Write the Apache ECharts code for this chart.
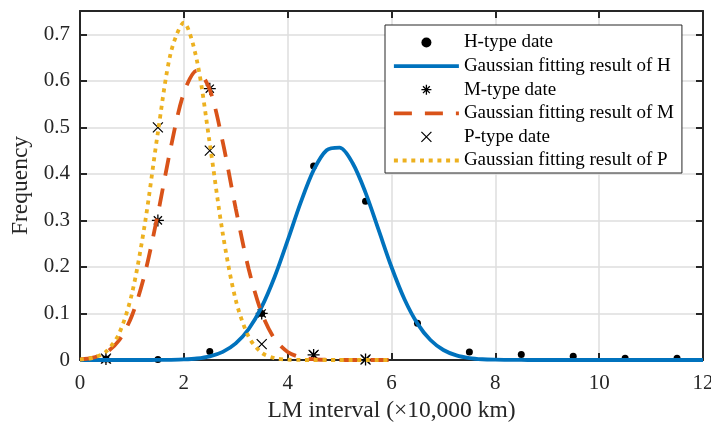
<!DOCTYPE html>
<html>
<head>
<meta charset="utf-8">
<script src="https://cdn.jsdelivr.net/npm/echarts@6/dist/echarts.min.js"></script>
<style>
  html, body { margin: 0; padding: 0; background: #ffffff; }
  #chart { width: 711px; height: 426px; }
</style>
</head>
<body>
<div id="chart"></div>
<script>
// Histogram bin centres of the LM interval (×10,000 km)
const binCenters = [0.5, 1.5, 2.5, 3.5, 4.5, 5.5, 6.5, 7.5, 8.5, 9.5, 10.5, 11.5];

// Observed frequencies per type
const hFreq = [0.002, 0.001, 0.018, 0.100, 0.417, 0.341, 0.079, 0.017, 0.012, 0.008, 0.004, 0.004];
const mFreq = [0.002, 0.300, 0.583, 0.100, 0.011, 0.001];
const pFreq = [0.003, 0.500, 0.450, 0.034, 0.011, 0.001];

// Abscissae at which the fitted Gaussian curves are tabulated
const fitX = [0, 0.25, 0.5, 0.75, 1, 1.25, 1.5, 1.75, 2, 2.25, 2.5, 2.75, 3, 3.25, 3.5, 3.75,
              4, 4.25, 4.5, 4.75, 5, 5.25, 5.5, 5.75, 6, 6.25, 6.5, 6.75, 7, 7.25, 7.5, 7.75,
              8, 8.25, 8.5, 8.75, 9, 9.25, 9.5, 9.75, 10, 10.25, 10.5, 10.75, 11, 11.25, 11.5, 11.75, 12];

// Fitted curve values (H over 0–12, M and P over 0–6)
const hFit = [0, 0, 0, 0, 0, 0, 0.0001, 0.0004,
              0.0012, 0.0032, 0.0079, 0.0175, 0.0357, 0.0666, 0.1141, 0.1789,
              0.2570, 0.3383, 0.4080, 0.4508, 0.4564, 0.4233, 0.3597, 0.2800,
              0.1998, 0.1305, 0.0782, 0.0429, 0.0215, 0.0099, 0.0042, 0.0016,
              0.0006, 0.0002, 0.0001, 0, 0, 0, 0, 0, 0, 0, 0, 0, 0, 0, 0, 0, 0];
const mFit = [0.0015, 0.0052, 0.0159, 0.0419, 0.0950, 0.1860, 0.3140, 0.4572,
              0.5742, 0.6220, 0.5810, 0.4682, 0.3254, 0.1950, 0.1008, 0.0450,
              0.0173, 0.0057, 0.0016, 0.0004, 0.0001, 0, 0, 0, 0];
const pFit = [0.0010, 0.0047, 0.0179, 0.0561, 0.1424, 0.2930, 0.4887, 0.6609,
              0.7247, 0.6445, 0.4647, 0.2716, 0.1288, 0.0495, 0.0154, 0.0039,
              0.0008, 0.0001, 0, 0, 0, 0, 0, 0, 0];

// Axis ranges and tick steps
const xRange = [0, 12], xStep = 2;
const yRange = [0, 0.75], yStep = 0.1;

const seriesNames = [
  'H-type date', 'Gaussian fitting result of H',
  'M-type date', 'Gaussian fitting result of M',
  'P-type date', 'Gaussian fitting result of P'
];

const pairs = (xs, ys) => ys.map((y, i) => [xs[i], y]);

const FONT = 'Liberation Serif';
const INK = '#262626';
const CLEAR = 'rgba(0,0,0,0)';
const ASTERISK = 'path://M0,5L10,5M5,0L5,10M1.6,1.6L8.4,8.4M8.4,1.6L1.6,8.4';
const CROSS = 'path://M0,0L10,10M10,0L0,10';
const FIT_WIDTH = 3.8;

const frameLine = { show: true, onZero: false, lineStyle: { color: INK, width: 2 } };
const frameTick = { show: true, inside: true, length: 7, lineStyle: { color: INK, width: 2 } };
const gridLine = { show: true, lineStyle: { color: '#dedede', width: 1.5 } };

// Fitted-curve entries in the legend show only their line sample
const legendItems = seriesNames.map((name, i) =>
  i % 2 === 1
    ? { name: name, itemStyle: { color: CLEAR, borderColor: CLEAR, borderWidth: 0, opacity: 0 } }
    : { name: name }
);

const chart = echarts.init(document.getElementById('chart'), null, { renderer: 'canvas' });

chart.setOption({
  animation: false,
  backgroundColor: '#ffffff',
  textStyle: { fontFamily: FONT },
  grid: { left: 80, right: 8, top: 11, bottom: 66, containLabel: false, outerBoundsMode: 'none' },
  legend: {
    data: legendItems,
    orient: 'vertical',
    left: 385,
    top: 25,
    itemWidth: 65,
    itemHeight: 10,
    itemGap: 4.6,
    padding: [8, 8, 3, 7],
    backgroundColor: '#ffffff',
    borderColor: INK,
    borderWidth: 1,
    borderRadius: 0,
    lineStyle: { width: 'inherit' },
    itemStyle: { borderWidth: 'inherit' },
    textStyle: { fontFamily: FONT, fontSize: 19, color: '#000000' }
  },
  xAxis: [
    {
      type: 'value', min: xRange[0], max: xRange[1], interval: xStep, position: 'bottom',
      axisLine: frameLine, axisTick: frameTick, splitLine: gridLine,
      axisLabel: { margin: 13, fontFamily: FONT, fontSize: 21, color: INK },
      name: 'LM interval (×10,000 km)', nameLocation: 'middle', nameGap: 38,
      nameTextStyle: { fontFamily: FONT, fontSize: 23.5, color: INK }
    },
    {
      type: 'value', min: xRange[0], max: xRange[1], interval: xStep, position: 'top',
      axisLine: frameLine, axisTick: frameTick, splitLine: { show: false },
      axisLabel: { show: false }
    }
  ],
  yAxis: [
    {
      type: 'value', min: yRange[0], max: yRange[1], interval: yStep, position: 'left',
      axisLine: frameLine, axisTick: frameTick, splitLine: gridLine,
      axisLabel: { margin: 10, fontFamily: FONT, fontSize: 21, color: INK, showMaxLabel: false },
      name: 'Frequency', nameLocation: 'middle', nameGap: 37,
      nameTextStyle: { fontFamily: FONT, fontSize: 23.5, color: INK }
    },
    {
      type: 'value', min: yRange[0], max: yRange[1], interval: yStep, position: 'right',
      axisLine: frameLine, axisTick: frameTick, splitLine: { show: false },
      axisLabel: { show: false }
    }
  ],
  series: [
    {
      name: seriesNames[0], type: 'scatter', data: pairs(binCenters, hFreq),
      symbol: 'circle', symbolSize: 7, itemStyle: { color: '#000000', opacity: 1 }
    },
    {
      name: seriesNames[1], type: 'line', data: pairs(fitX, hFit),
      symbol: 'none', showSymbol: false, smooth: 0.3,
      lineStyle: { color: '#0072BD', width: FIT_WIDTH }, itemStyle: { color: '#0072BD' }
    },
    {
      name: seriesNames[2], type: 'scatter', data: pairs(binCenters, mFreq),
      symbol: ASTERISK, symbolSize: 12,
      itemStyle: { color: CLEAR, borderColor: '#000000', borderWidth: 1.3, opacity: 1 }
    },
    {
      name: seriesNames[3], type: 'line', data: pairs(fitX, mFit),
      symbol: 'none', showSymbol: false, smooth: 0.3,
      lineStyle: { color: '#D95319', width: FIT_WIDTH, type: [18, 13] }, itemStyle: { color: '#D95319' }
    },
    {
      name: seriesNames[4], type: 'scatter', data: pairs(binCenters, pFreq),
      symbol: CROSS, symbolSize: 10,
      itemStyle: { color: CLEAR, borderColor: '#000000', borderWidth: 1.2, opacity: 1 }
    },
    {
      name: seriesNames[5], type: 'line', data: pairs(fitX, pFit),
      symbol: 'none', showSymbol: false, smooth: 0.3,
      lineStyle: { color: '#EDB120', width: FIT_WIDTH, type: [4, 4.7] }, itemStyle: { color: '#EDB120' }
    }
  ]
});
</script>
</body>
</html>
